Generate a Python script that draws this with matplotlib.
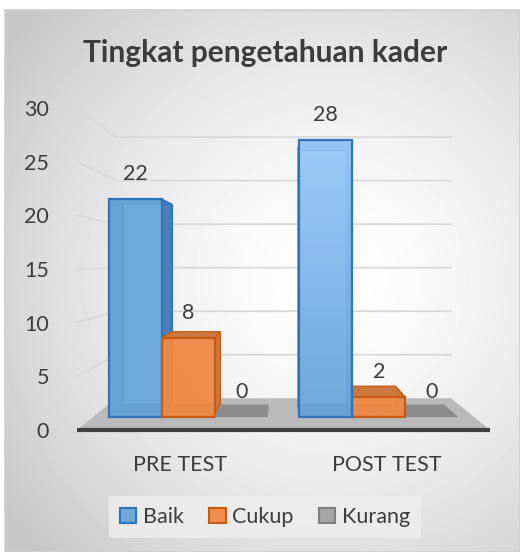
import numpy as np
import matplotlib
matplotlib.use("Agg")
import matplotlib.pyplot as plt
from matplotlib.patches import Polygon, Patch, Rectangle
from matplotlib.colors import LinearSegmentedColormap

plt.rcParams['font.family'] = ['Lato', 'DejaVu Sans']

# data
categories = ['PRE TEST', 'POST TEST']
series = ['Baik', 'Cukup', 'Kurang']
baik = [22, 28]
cukup = [8, 2]
kurang = [0, 0]
yticks = [0, 5, 10, 15, 20, 25, 30]

values = [baik, cukup, kurang]
front_col = ['#6FA8DC', '#F08C4C', '#8C8C8C']
side_col = ['#4A7DB3', '#C9773F', '#7A7A7A']
edge_col = ['#2F73B9', '#C95A12', '#7A7A7A']
top_light = {(1, 0): '#A2D2FD'}   # lighter top on the tall bar
text_col = '#3C3C3C'

# perspective: everything is scaled toward a vanishing point
VPX, VPY = 0.5, 15.65
S_FLOOR_BACK = 0.811
S_BAR_FRONT, S_BAR_BACK = 0.923, 0.848
BAR_W = 0.278

def P(x, v, s):
    return (VPX + s * (x - VPX), VPY + s * (v - VPY))

fig = plt.figure(figsize=(5.2, 5.52), dpi=100)

# chart background with radial gradient
bg = fig.add_axes([5 / 520, 0, 515 / 520, 542 / 552])
yy, xx = np.mgrid[0:542, 0:515]
r = np.hypot(xx - 325, yy - 270) / 400
shade = 1 - 0.22 * np.clip(r, 0, 1) ** 1.5
bg.imshow(shade, cmap='gray', vmin=0, vmax=1, aspect='auto', extent=[0, 1, 0, 1])
bg.set_xlim(0, 1)
bg.set_ylim(0, 1)
bg.axis('off')
bg.add_patch(Rectangle((0, 0), 1, 1, transform=bg.transAxes, fill=False,
                       edgecolor='#d0d0d0', lw=1.2, clip_on=False))

ax = fig.add_axes([77 / 520, 122 / 552, 413 / 520, 322 / 552])
ax.set_facecolor('none')
ax.set_xlim(-0.5, 1.5)
ax.set_ylim(0, 30)
for sp in ax.spines.values():
    sp.set_visible(False)
ax.set_yticks(yticks)
ax.set_xticks(range(len(categories)))
ax.set_xticklabels(categories)
ax.tick_params(length=0, labelsize=15.5, labelcolor=text_col)
ax.tick_params(axis='y', pad=20)
ax.tick_params(axis='x', pad=18)

# gridlines on left wall and back wall
for v in yticks[1:]:
    pts = [P(-0.5, v, 1), P(-0.5, v, S_FLOOR_BACK), P(1.5, v, S_FLOOR_BACK)]
    ax.plot([p[0] for p in pts], [p[1] for p in pts], color='#d9d9d9', lw=1.3,
            zorder=1, clip_on=False)

# floor
floor = [P(-0.5, 0, 1), P(1.5, 0, 1), P(1.5, 0, S_FLOOR_BACK), P(-0.5, 0, S_FLOOR_BACK)]
ax.add_patch(Polygon(floor, closed=True, facecolor='#bababa', edgecolor='none',
                     zorder=2, clip_on=False))
f0, f1 = P(-0.5, 0, 1), P(1.5, 0, 1)
ax.plot([f0[0], f1[0]], [f0[1], f1[1]], color='#404040', lw=3, zorder=2.5,
        solid_capstyle='butt', clip_on=False)

# bars, drawn from far-from-centre inward so the side faces get covered
bars = []
for i in range(len(categories)):
    for j in range(len(series)):
        x0 = i - 1.5 * BAR_W + j * BAR_W
        bars.append((abs(x0 + BAR_W / 2 - VPX), i, j, x0))
bars.sort(key=lambda b: -b[0])

z = 3
for _, i, j, x0 in bars:
    x1 = x0 + BAR_W
    v = values[j][i]
    sf, sb = S_BAR_FRONT, S_BAR_BACK
    if v == 0:
        top = [P(x0, 0, sf), P(x1, 0, sf), P(x1, 0, sb), P(x0, 0, sb)]
        ax.add_patch(Polygon(top, facecolor=front_col[j], edgecolor='none',
                             zorder=z, clip_on=False))
    else:
        faces = [
            ([P(x0, 0, sb), P(x1, 0, sb), P(x1, v, sb), P(x0, v, sb)], front_col[j]),
            ([P(x0, 0, sf), P(x1, 0, sf), P(x1, 0, sb), P(x0, 0, sb)], side_col[j]),
            ([P(x0, 0, sf), P(x0, v, sf), P(x0, v, sb), P(x0, 0, sb)], side_col[j]),
            ([P(x1, 0, sf), P(x1, v, sf), P(x1, v, sb), P(x1, 0, sb)], side_col[j]),
            ([P(x0, v, sf), P(x1, v, sf), P(x1, v, sb), P(x0, v, sb)], side_col[j]),
        ]
        for k, (pts, c) in enumerate(faces):
            ax.add_patch(Polygon(pts, facecolor=c, edgecolor=edge_col[j], lw=0.9,
                                 alpha=0.95, zorder=z + 0.01 * k, clip_on=False))
        front = [P(x0, 0, sf), P(x1, 0, sf), P(x1, v, sf), P(x0, v, sf)]
        fpoly = Polygon(front, facecolor='none', edgecolor=edge_col[j], lw=1.6,
                        zorder=z + 0.2, clip_on=False)
        light = top_light.get((i, j), front_col[j])
        cmap = LinearSegmentedColormap.from_list('g', [front_col[j], light])
        (ax0, ay0), (ax1, ay1) = front[0], front[2]
        im = ax.imshow(np.linspace(0, 1, 50).reshape(-1, 1), cmap=cmap, origin='lower',
                       extent=[ax0, ax1, ay0, ay1], aspect='auto', alpha=0.85,
                       zorder=z + 0.1, clip_on=False)
        ax.add_patch(fpoly)
        im.set_clip_path(fpoly)
    # value label
    cx, cy = P(x0 + BAR_W / 2, v, S_BAR_FRONT)
    ax.annotate(str(v), (cx, cy), xytext=(0, 18), textcoords='offset points',
                ha='center', va='center', fontsize=15.5, color=text_col, zorder=10,
                annotation_clip=False)
    z += 1

ax.set_xlim(-0.5, 1.5)
ax.set_ylim(0, 30)

fig.text(265 / 520, 1 - 62 / 552, 'Tingkat pengetahuan kader', ha='center',
         va='baseline', fontsize=21.5, fontweight='bold', color=text_col)

handles = [Patch(facecolor=front_col[j], edgecolor=edge_col[j], lw=1.5)
           for j in range(2)]
handles.append(Patch(facecolor='#a6a6a6', edgecolor='#7f7f7f', lw=1.5))
leg = fig.legend(handles, series, loc='center', bbox_to_anchor=(265 / 520, 1 - 517 / 552),
                 ncol=3, fontsize=15.5, frameon=True, fancybox=False,
                 handlelength=0.75, handleheight=0.75, handletextpad=0.3,
                 columnspacing=1.2, borderpad=0.5, labelcolor=text_col)
leg.get_frame().set_facecolor('#eeeeee')
leg.get_frame().set_edgecolor('none')
leg.get_frame().set_alpha(0.8)

fig.savefig('out.png', dpi=100)
